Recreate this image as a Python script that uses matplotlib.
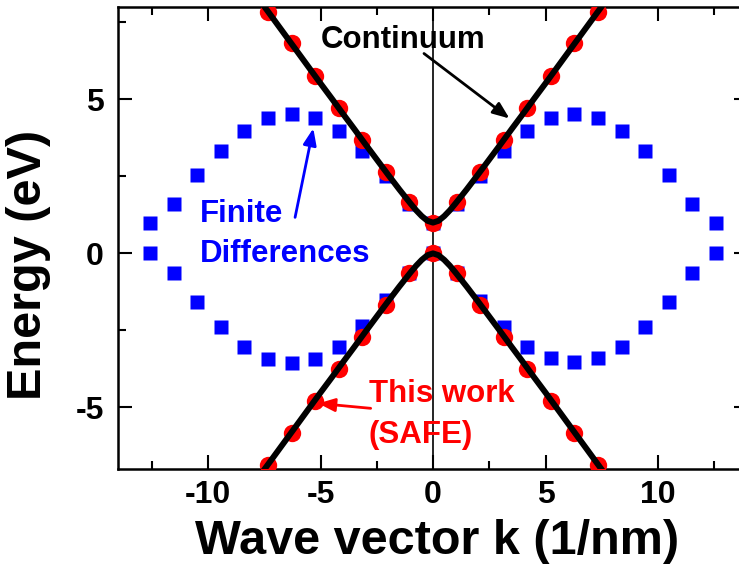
import matplotlib
matplotlib.use("Agg")
import matplotlib.pyplot as plt

plt.rcParams['font.family'] = ['Liberation Sans', 'DejaVu Sans']
plt.rcParams['font.weight'] = 'bold'
plt.rcParams['axes.unicode_minus'] = False

# Finite differences (blue squares)
k_fd = [-12.57, -11.52, -10.47, -9.42, -8.38, -7.33, -6.28, -5.24, -4.19, -3.14,
        -2.09, -1.05, 0.0, 1.05, 2.09, 3.14, 4.19, 5.24, 6.28, 7.33, 8.38, 9.42,
        10.47, 11.52, 12.57]
e_fd_upper = [1.0, 1.62, 2.53, 3.34, 3.99, 4.38, 4.51, 4.38, 3.99, 3.32, 2.50, 1.62,
              0.98, 1.62, 2.50, 3.34, 3.99, 4.38, 4.51, 4.38, 3.99, 3.34, 2.53, 1.62, 0.98]
e_fd_lower = [0.0, -0.65, -1.58, -2.40, -3.05, -3.42, -3.55, -3.42, -3.04, -2.37, -1.50,
              -0.65, 0.0, -0.65, -1.55, -2.40, -3.05, -3.41, -3.54, -3.41, -3.05, -2.40,
              -1.59, -0.65, 0.0]

# This work (SAFE) (red circles)
k_safe = [-7.33, -6.28, -5.24, -4.19, -3.14, -2.09, -1.05, 0.0, 1.05, 2.09, 3.14,
          4.19, 5.24, 6.28, 7.33]
e_safe_upper = [7.85, 6.82, 5.77, 4.72, 3.68, 2.64, 1.66, 1.0, 1.66, 2.64, 3.68,
                4.72, 5.77, 6.82, 7.85]
e_safe_lower = [-6.86, -5.82, -4.79, -3.74, -2.70, -1.66, -0.65, 0.0, -0.65, -1.66,
                -2.70, -3.74, -4.79, -5.82, -6.86]

# Continuum (black lines)
k_cont = [-7.8, -7.5, -7.0, -6.5, -6.0, -5.5, -5.0, -4.5, -4.0, -3.5, -3.0, -2.5,
          -2.0, -1.5, -1.0, -0.75, -0.5, -0.25, 0.0, 0.25, 0.5, 0.75, 1.0, 1.5, 2.0,
          2.5, 3.0, 3.5, 4.0, 4.5, 5.0, 5.5, 6.0, 6.5, 7.0, 7.5, 7.8]
e_cont_upper = [8.32, 8.02, 7.52, 7.02, 6.52, 6.02, 5.52, 5.03, 4.53, 4.04, 3.54,
                3.05, 2.56, 2.08, 1.62, 1.40, 1.21, 1.06, 1.0, 1.06, 1.21, 1.40, 1.62,
                2.08, 2.56, 3.05, 3.54, 4.04, 4.53, 5.03, 5.52, 6.02, 6.52, 7.02,
                7.52, 8.02, 8.32]
e_cont_lower = [-7.32, -7.02, -6.52, -6.02, -5.52, -5.02, -4.52, -4.03, -3.53, -3.04,
                -2.54, -2.05, -1.56, -1.08, -0.62, -0.40, -0.21, -0.06, 0.0, -0.06,
                -0.21, -0.40, -0.62, -1.08, -1.56, -2.05, -2.54, -3.04, -3.53, -4.03,
                -4.52, -5.02, -5.52, -6.02, -6.52, -7.02, -7.32]

x_ticks = [-10, -5, 0, 5, 10]
y_ticks = [-5, 0, 5]

W, H = 739, 579
fig = plt.figure(figsize=(W / 100, H / 100), dpi=100)
ax = fig.add_axes([118 / W, (H - 469) / H, (748 - 118) / W, (469 - 7) / H])

ax.axvline(0, color='black', lw=1.2, zorder=1)
ax.plot(k_fd, e_fd_upper, 's', color='#0000ff', ms=10, mec='none', zorder=2)
ax.plot(k_fd, e_fd_lower, 's', color='#0000ff', ms=10, mec='none', zorder=2)
ax.plot(k_safe, e_safe_upper, 'o', color='#ff0000', ms=12.5, mec='none', zorder=3)
ax.plot(k_safe, e_safe_lower, 'o', color='#ff0000', ms=12.5, mec='none', zorder=3)
ax.plot(k_cont, e_cont_upper, '-', color='black', lw=4.3, zorder=4)
ax.plot(k_cont, e_cont_lower, '-', color='black', lw=4.3, zorder=4)

ax.set_xlim(-14, 14)
ax.set_ylim(-7, 8)
ax.set_xticks(x_ticks)
ax.set_yticks(y_ticks)
ax.set_xticks([-12.5, -7.5, -2.5, 2.5, 7.5, 12.5], minor=True)
ax.set_yticks([-2.5, 2.5, 7.5], minor=True)
for s in ax.spines.values():
    s.set_linewidth(1.8)
ax.tick_params(which='both', direction='in', top=True, right=True, width=1.5)
ax.tick_params(which='major', length=10)
ax.tick_params(which='minor', length=5.5)
ax.tick_params(axis='x', which='major', labelsize=23, pad=8)
ax.tick_params(axis='y', which='major', labelsize=23, pad=10)
for lab in ax.get_xticklabels() + ax.get_yticklabels():
    lab.set_fontweight('bold')

ax.set_xlabel('Wave vector k (1/nm)', fontsize=35, fontweight='bold')
ax.xaxis.set_label_coords(0.507, -0.108)
fig.text(29 / W, 1 - 265 / H, 'Energy (eV)', rotation=90, fontsize=35,
         fontweight='bold', ha='center', va='center')

fs = 22.5
arrow_style = '-|>,head_length=1.0,head_width=0.4'
ax.text(-5.01, 6.66, 'Continuum', color='black', fontsize=fs, fontweight='bold',
        ha='left', va='baseline')
ax.annotate('', xy=(3.40, 4.38), xytext=(-0.40, 6.49),
            arrowprops=dict(arrowstyle=arrow_style, color='black', lw=2,
                            shrinkA=0, shrinkB=0))
ax.text(-10.38, 1.01, 'Finite', color='#0000ff', fontsize=fs, fontweight='bold',
        ha='left', va='baseline')
ax.text(-10.38, -0.29, 'Differences', color='#0000ff', fontsize=fs, fontweight='bold',
        ha='left', va='baseline')
ax.annotate('', xy=(-5.32, 4.06), xytext=(-6.13, 1.17),
            arrowprops=dict(arrowstyle=arrow_style, color='#0000ff', lw=2,
                            shrinkA=0, shrinkB=0))
ax.text(-2.86, -4.84, 'This work', color='#ff0000', fontsize=fs, fontweight='bold',
        ha='left', va='baseline')
ax.text(-2.86, -6.14, '(SAFE)', color='#ff0000', fontsize=fs, fontweight='bold',
        ha='left', va='baseline')
ax.annotate('', xy=(-5.10, -4.87), xytext=(-2.77, -5.03),
            arrowprops=dict(arrowstyle=arrow_style, color='#ff0000', lw=2,
                            shrinkA=0, shrinkB=0))

fig.savefig('out.png', dpi=100)
